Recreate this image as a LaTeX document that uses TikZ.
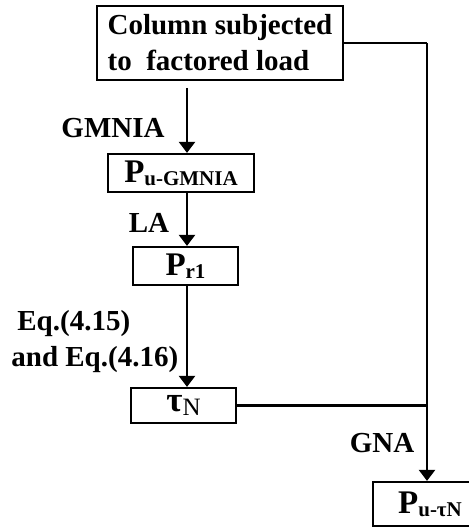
\documentclass[tikz,border=0pt]{standalone}
\usepackage{fontspec}
\setmainfont{Liberation Serif}
\usepackage{tikz}
\usetikzlibrary{arrows.meta, positioning}
\newcommand{\lowsub}[1]{\raisebox{-1.6pt}{\fontsize{10.5}{10.5}\selectfont #1}}
\tikzset{
  stepbox/.style={rectangle, draw=black, line width=1.1pt, fill=white,
    font=\fontsize{16.5}{19}\selectfont\bfseries, inner sep=0pt, align=center},
  arr/.style={-{Triangle[width=8pt, length=5.5pt]}, line width=1.1pt},
  link/.style={line width=1.1pt},
}

\begin{document}
\begin{tikzpicture}[
  x=0.5pt, y=-0.5pt,
  lbl/.style={font=\fontsize{14.5}{18}\selectfont\bfseries, inner sep=0pt},
]
\useasboundingbox (0,0) rectangle (469,529);

\node[stepbox, font=\fontsize{14.5}{18}\selectfont\bfseries, align=left,
  minimum width=123pt, minimum height=37pt] (top) at (220,43)
  {Column subjected\\to~ factored load};

\node[stepbox, minimum width=73pt, minimum height=19pt] (pug) at (181,173)
  {P\lowsub{u-GMNIA}};
\node[stepbox, minimum width=52.5pt, minimum height=19pt] (pr) at (185.5,266)
  {P\lowsub{r1}};
\node[stepbox, minimum width=52.5pt, minimum height=17.5pt] (tau) at (183.5,405.5)
  {\fontsize{17.5}{19}\selectfont τ\raisebox{-2pt}{\fontsize{12.5}{12.5}\selectfont\mdseries N}};
\node[stepbox, minimum width=57pt, minimum height=22pt] (ut) at (430,504)
  {P\lowsub{u-τN}};

\coordinate (c0) at (187,88);
\coordinate (rt) at (427,43);

\draw[arr] (c0) -- (c0 |- pug.north);
\draw[arr] (c0 |- pug.south) -- (c0 |- pr.north);
\draw[arr] (c0 |- pr.south) -- (c0 |- tau.north);

\draw[link] (top.east) -- (rt);
\draw[arr] (rt) -- (rt |- ut.north);
\draw[link] (tau.east) -- (tau.east -| rt);

\node[lbl] (lgm) at (113,128) {GMNIA};
\node[lbl] (lla) at (149,223) {LA};
\node[lbl, align=left, anchor=west] (leq) at (11,342)
  {\hspace*{3pt}Eq.(4.15)\\and Eq.(4.16)};
\node[lbl] (lgn) at (382,443) {GNA};

\end{tikzpicture}
\end{document}
